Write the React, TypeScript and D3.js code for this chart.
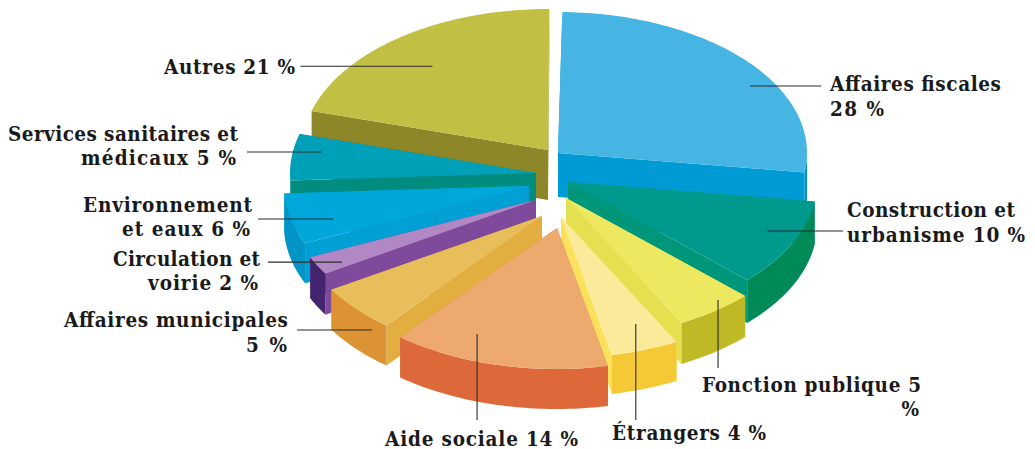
import React from "react";
import * as d3 from "d3";

// Data
const categories = ["Affaires fiscales","Construction et urbanisme","Fonction publique","Étrangers","Aide sociale","Affaires municipales","Circulation et voirie","Environnement et eaux","Services sanitaires et médicaux","Autres"];
const percents = [28,10,5,4,14,5,2,6,5,21];
// angular shares as drawn in the picture (slightly differ from the rounded labels)
const drawnShares = [26.9,10,5.1,4.4,14.1,5.4,2.1,5.8,5.3,20.6];

// Style / layout
const topColors = ["#46B5E3","#00998D","#ECE85F","#FBEA9A","#EEA96F","#E8BE5B","#B188C3","#00A7DA","#00A0B8","#C2C044"];
const radialColors = ["#009BD5","#00967A","#E5E04F","#FCE15D","#E07F4A","#E2AE3F","#7F4A9B","#009FD4","#008D7F","#8D8729"];
const arcColors = ["#0090CB","#008A57","#BFB926","#F4C935","#DD683A","#DC9334","#42246F","#0094C7","#008D7F","#8D8729"];
const apexX = [558,568,566,561,557,542,536,529,536,548];
const apexY = [153,182,198,217,228,216,200,186,173,150];
const depths = [44,43,41,39,40,40,41,40,40,50];
const paintOrder = [0,9,1,8,7,2,6,5,3,4];
const radiiX = [249,249,249,249,249,247,247,245,246,246];
const RY = 141;
const LEADER_RX = 249;
const startDeg = 1;
const sweepDeg = 359.3;

const leaderAngle = [58.4,113.5,139.8,158.4,203.1,220.2,240.5,253.4,279.8,322];
const leaderFrac = [.906,.872,.946,.816,.818,1.058,.895,.821,.872,.754];
const leaderDx = [71,76,0,0,0,-75,-74,-75,-75,-132];
const leaderDy = [0,0,68,96,86,0,0,0,0,0];

type Line = [string, number, number, string, number?];
const labelLines: Line[] = [
  ["Autres 21 %",164,73.5,"start",131],
  ["Affaires fiscales",830,91,"start",171],
  ["28 %",830,116,"start",54],
  ["Construction et",847,216.5,"start",168],
  ["urbanisme 10 %",847,241.5,"start",178],
  ["Fonction publique 5",702,391.5,"start",219],
  ["%",919,416,"end"],
  ["Étrangers 4 %",612,439.5,"start",154],
  ["Aide sociale 14 %",385,446,"start",193],
  ["Affaires municipales",64,326.5,"start",224],
  ["5 %",246,351.5,"start",41],
  ["Circulation et",113,265.5,"start",147],
  ["voirie 2 %",148,289.5,"start",110],
  ["Environnement",83,211.5,"start",169],
  ["et eaux 6 %",122,235.5,"start",128],
  ["Services sanitaires et",8,140.5,"start",230],
  ["médicaux 5 %",81,164.5,"start",155],
];

const pie = d3.pie<number>().sort(null).value(d => d)
  .startAngle(startDeg * Math.PI / 180).endAngle((startDeg + sweepDeg) * Math.PI / 180);
const arcs = pie(drawnShares);
const line = d3.line<[number, number]>();

function pt(i: number, a: number, f = 1, rx = radiiX[i]): [number, number] {
  return [apexX[i] + rx * f * Math.sin(a), apexY[i] - RY * f * Math.cos(a)];
}
function arcPts(i: number, a0: number, a1: number): [number, number][] {
  const n = Math.max(2, Math.ceil((a1 - a0) / 0.02));
  return d3.range(n + 1).map(k => pt(i, a0 + (a1 - a0) * k / n));
}
const shift = (p: [number, number], d: number): [number, number] => [p[0], p[1] + d];

function Slice({ i }: { i: number }) {
  const { startAngle: a0, endAngle: a1 } = arcs[i];
  const d = depths[i];
  const apex: [number, number] = [apexX[i], apexY[i]];
  const radialWall = (a: number) =>
    line([apex, pt(i, a), shift(pt(i, a), d), shift(apex, d)]) + "Z";
  // the outer wall only faces the viewer on the front half of the ellipse
  const v0 = Math.max(a0, Math.PI / 2), v1 = Math.min(a1, 1.5 * Math.PI);
  const front = v1 > v0 ? arcPts(i, v0, v1) : null;
  return (
    <g>
      <path d={radialWall(a0)} fill={radialColors[i]} />
      <path d={radialWall(a1)} fill={radialColors[i]} />
      {front && (
        <path d={line([...front, ...front.slice().reverse().map(p => shift(p, d))]) + "Z"} fill={arcColors[i]} />
      )}
      <path d={line([apex, ...arcPts(i, a0, a1)]) + "Z"} fill={topColors[i]} />
    </g>
  );
}

export default function App() {
  return (
    <svg width={1035} height={449} viewBox="0 0 1035 449"
      style={{ position: "absolute", left: 0, top: 0, background: "#fff" }}>
      {paintOrder.map(i => <Slice key={categories[i]} i={i} />)}
      {percents.map((_, i) => {
        const [x, y] = pt(i, leaderAngle[i] * Math.PI / 180, leaderFrac[i], LEADER_RX);
        return <line key={i} x1={x} y1={y} x2={x + leaderDx[i]} y2={y + leaderDy[i]} stroke="#2b2b2b" strokeWidth={1.1} />;
      })}
      <g fontFamily="'DejaVu Serif Condensed', 'DejaVu Serif', serif" fontWeight={700} fontSize={20.5} fill="#1a1a1a">
        {labelLines.map(([t, x, y, anchor, w]) => (
          <text key={t} x={x} y={y} textAnchor={anchor} textLength={w} lengthAdjust={w ? "spacing" : undefined}>{t}</text>
        ))}
      </g>
    </svg>
  );
}
